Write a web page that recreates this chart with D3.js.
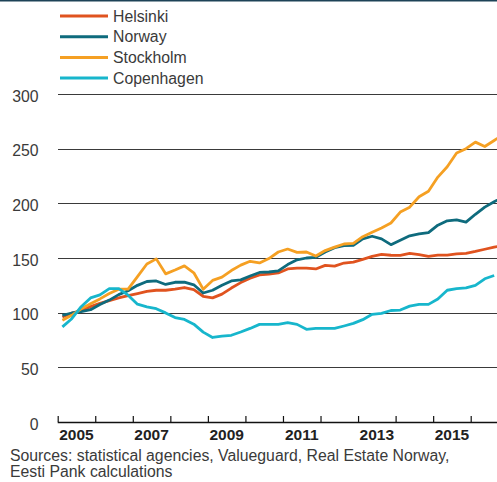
<!DOCTYPE html>
<meta charset="utf-8">
<style>
  body { margin: 0; background: #fff; }
  text { font-family: "Liberation Sans", Arial, sans-serif; }
</style>
<svg width="497" height="482"></svg>
<script src="https://d3js.org/d3.v7.min.js"></script>
<script>

  // quarterly house price indices, 2005 Q1 = start
  var startYear = 2005;
  var helsinki = [96, 99.5, 102, 105.5, 108.5, 111, 113.5, 115.5, 117.5, 119.5, 120.5, 120.5,
                  121.5, 123, 121, 115, 113.5, 117, 122.5, 127.5, 131.5, 134.5, 135.3, 136.3,
                  140, 140.8, 140.8, 140, 143.3, 142.5, 145.4, 146.3, 148.8, 151.5, 153.3, 152.5,
                  152.4, 154.2, 153, 151.5, 152.7, 152.7, 153.7, 154.3, 156, 158, 160, 161.5];
  var norway = [97.6, 99.7, 101, 102.7, 107.5, 111.5, 116.5, 120, 125, 128.5, 129, 125.8,
                127.8, 128, 125.5, 118, 120.5, 125, 129, 130, 133.5, 136.8, 137.2, 138.2,
                144, 148.3, 150, 150.6, 155.5, 159.5, 161.3, 161.6, 167.5, 169.9, 167.5, 162.2,
                166.3, 170.3, 172, 173.2, 180, 184, 184.8, 182.8, 190, 196.5, 201.5, 206];
  var stockholm = [93, 97.6, 103.6, 108.2, 112.6, 117.5, 121.5, 121.6, 133, 144.5, 149.2, 135.5,
                   139, 142.8, 136.5, 121.5, 129.5, 132.5, 138.5, 143.5, 147, 145.5, 149.5, 155.5,
                   158.2, 155.2, 155.5, 151.8, 156.8, 160, 162.8, 163.4, 169.5, 173.5, 177.5, 182,
                   192, 196.5, 206, 211, 224, 233.5, 246, 250, 256, 252, 257.5, 263];
  var copenhagen = [87, 94.5, 105.5, 113.5, 116.2, 122, 122, 116, 107.8, 105.3, 103.6, 99.8,
                    95.5, 93.8, 89.5, 82.2, 77.3, 78.6, 79.3, 82.3, 85.6, 89.3, 89.2, 89.3,
                    90.8, 89.3, 84.8, 85.6, 85.6, 85.6, 87.8, 90.2, 93.6, 98.5, 99.4, 102,
                    102.4, 106, 107.6, 107.6, 112.5, 120.5, 122, 122.6, 125, 131, 134];

  var seriesNames = ["Helsinki", "Norway", "Stockholm", "Copenhagen"];
  var seriesColors = ["#e0531f", "#0e6b7d", "#f5a023", "#17b6cc"];
  var yTicks = [0, 50, 100, 150, 200, 250, 300];
  var yearTicks = [2005, 2006, 2007, 2008, 2009, 2010, 2011, 2012, 2013, 2014, 2015, 2016];
  var yearLabels = ["2005", "2007", "2009", "2011", "2013", "2015"];
  var sourceLines = ["Sources: statistical agencies, Valueguard, Real Estate Norway,",
                     "Eesti Pank calculations"];

  var series = [helsinki, norway, stockholm, copenhagen];

  var svg = d3.select("svg"),
      width = +svg.attr("width"),
      height = +svg.attr("height");

  var x = d3.scaleLinear().domain([2005, 2016]).range([57.7, 470.7]),
      y = d3.scaleLinear().domain([0, 300]).range([422, 94]);

  // top rule
  svg.append("rect").attr("x", 0).attr("y", 0).attr("width", width).attr("height", 1.5).attr("fill", "#1d4257");

  // gridlines + y labels
  svg.append("g").selectAll("line")
      .data(yTicks.filter(function(d) { return d > 0; }))
      .enter().append("line")
      .attr("x1", 58).attr("x2", width)
      .attr("y1", function(d) { return Math.round(y(d)) + 0.5; })
      .attr("y2", function(d) { return Math.round(y(d)) + 0.5; })
      .attr("stroke", "#3a3a3a").attr("stroke-width", 1);

  svg.append("g").selectAll("text")
      .data(yTicks)
      .enter().append("text")
      .attr("x", 38.5).attr("y", function(d) { return y(d) + 7.5; })
      .attr("text-anchor", "end")
      .attr("font-size", 15.8).attr("fill", "#3a3a3a")
      .text(function(d) { return d; });

  // x axis, ticks pointing up
  var xAxis = d3.axisBottom(x)
      .tickValues(yearTicks)
      .tickSizeInner(-6)
      .tickSizeOuter(0)
      .tickFormat("");

  var ax = svg.append("g").attr("transform", "translate(0," + 422 + ")").call(xAxis);
  ax.select(".domain").attr("d", "M57.7,0.5H" + width).attr("stroke", "#111").attr("stroke-width", 1.3);
  ax.selectAll(".tick line").attr("stroke", "#111").attr("stroke-width", 1.2);

  svg.append("g").selectAll("text")
      .data(yearLabels)
      .enter().append("text")
      .attr("x", function(d) { return x(+d + 0.5); })
      .attr("y", 440)
      .attr("text-anchor", "middle")
      .attr("font-size", 15.5).attr("font-weight", "bold").attr("fill", "#222")
      .text(function(d) { return d; });

  // lines
  var line = d3.line()
      .x(function(d, i) { return x(startYear + 0.125 + i * 0.25); })
      .y(function(d) { return y(d); });

  svg.append("g").selectAll("path")
      .data(series)
      .enter().append("path")
      .attr("d", line)
      .attr("fill", "none")
      .attr("stroke", function(d, i) { return seriesColors[i]; })
      .attr("stroke-width", 2.8)
      .attr("stroke-linejoin", "round");

  // legend
  var legend = svg.append("g").selectAll("g")
      .data(seriesNames)
      .enter().append("g")
      .attr("transform", function(d, i) { return "translate(60," + (16 + i * 20.7) + ")"; });

  legend.append("line")
      .attr("x1", 0).attr("x2", 48)
      .attr("stroke", function(d, i) { return seriesColors[i]; })
      .attr("stroke-width", 3);

  legend.append("text")
      .attr("x", 53).attr("y", 5.5)
      .attr("font-size", 15.8).attr("fill", "#3a3a3a")
      .text(function(d) { return d; });

  // sources
  svg.append("g").selectAll("text")
      .data(sourceLines)
      .enter().append("text")
      .attr("x", 10).attr("y", function(d, i) { return 461 + i * 16; })
      .attr("font-size", 15.8).attr("fill", "#3a3a3a")
      .text(function(d) { return d; });

</script>
